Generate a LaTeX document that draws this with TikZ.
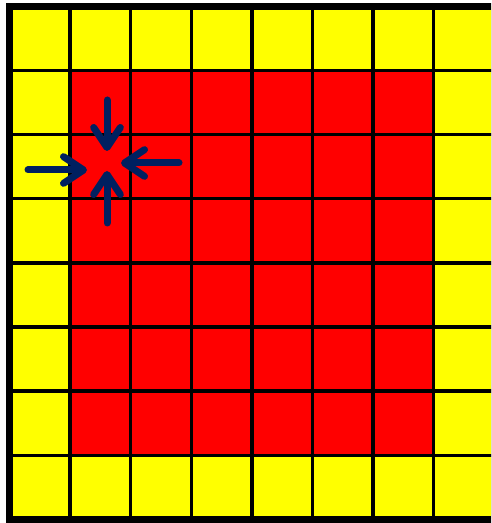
\documentclass[tikz,border=0pt]{standalone}
\usetikzlibrary{arrows.meta}
\definecolor{cellyellow}{HTML}{FFFF00}
\definecolor{cellred}{HTML}{FF0000}
\definecolor{arrownavy}{HTML}{002060}
\begin{document}
\begin{tikzpicture}[x=0.75pt,y=-0.75pt,
    gridline/.style={draw=black, line width=2.5pt},
    frame/.style={draw=black, line width=5.25pt},
    arrow/.style={-{Straight Barb[length=15pt,width=20pt,round,line width=5.25pt]}, line width=5.25pt, arrownavy, line cap=round}]

    \useasboundingbox (0,0) rectangle (491,523);
    \clip (0,0) rectangle (491,523);

    % board: 8 x 8 cells
    \begin{scope}[shift={(9.5,6.5)}, x=45.45pt, y=-48.075pt]
        \fill[cellyellow] (0,0) rectangle (8,8);
        \fill[cellred] (1,1) rectangle (7,7);
        \foreach \k in {1,...,7} {
            \draw[gridline] (\k,0) -- (\k,8);
            \draw[gridline] (0,\k) -- (8,\k);
        }
        \draw[frame] (0,0) rectangle (8,8);
    \end{scope}

    % arrow ends
    \coordinate (topstart) at (107,100);
    \coordinate (toptip) at (107,151);
    \coordinate (botstart) at (107,223);
    \coordinate (bottip) at (107,171);
    \coordinate (leftstart) at (28,170);
    \coordinate (lefttip) at (87,170);
    \coordinate (rightstart) at (179,163);
    \coordinate (righttip) at (121,163);

    \draw[arrow] (topstart) -- (toptip);
    \draw[arrow] (botstart) -- (bottip);
    \draw[arrow] (leftstart) -- (lefttip);
    \draw[arrow] (rightstart) -- (righttip);

\end{tikzpicture}
\end{document}
